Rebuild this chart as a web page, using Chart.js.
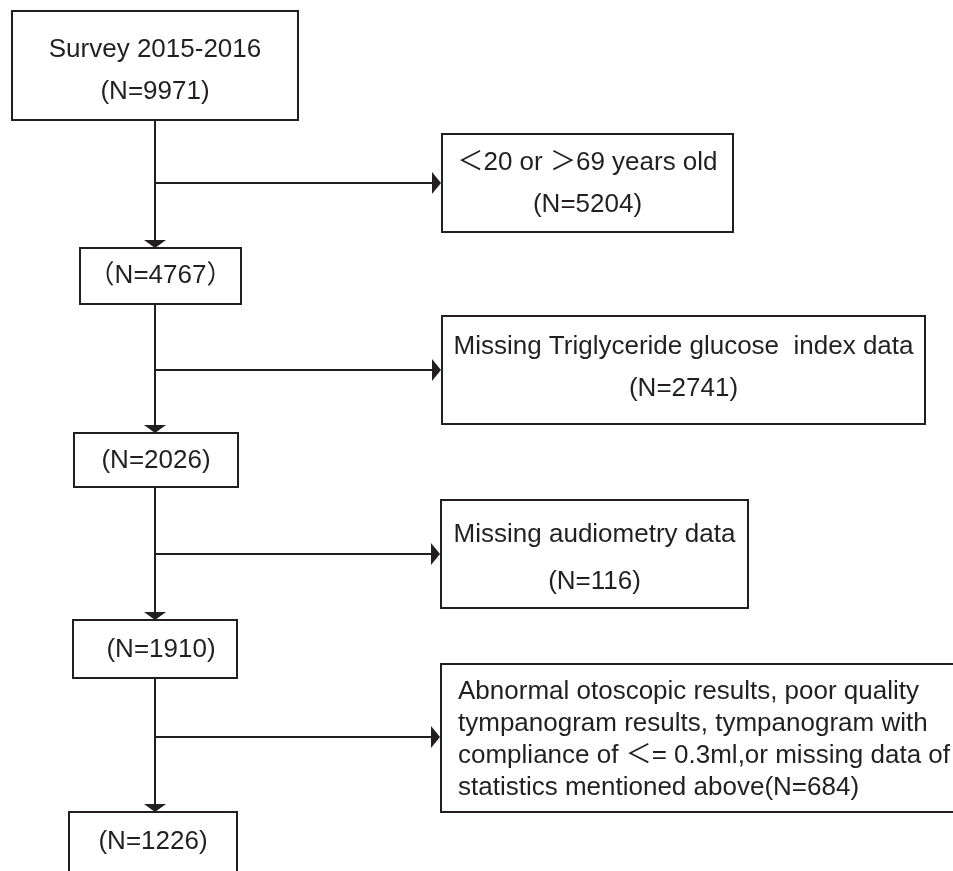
<!DOCTYPE html>
<html>
<head>
<meta charset="utf-8">
<script src="https://cdn.jsdelivr.net/npm/chart.js@4"></script>
<style>
html,body{margin:0;padding:0;background:#fff;overflow:hidden;}
canvas{display:block;}
</style>
</head>
<body>
<canvas id="c" width="953" height="871"></canvas>
<script>
// ---- data ----
const mainLabels = ['Survey 2015-2016', '', '', '', ''];
const mainCounts = [9971, 4767, 2026, 1910, 1226];
const exclusionLabels = [
  ['＜20 or ＞69 years old'],
  ['Missing Triglyceride glucose  index data'],
  ['Missing audiometry data'],
  ['Abnormal otoscopic results, poor quality', 'tympanogram results, tympanogram with', 'compliance of ＜= 0.3ml,or missing data of', 'statistics mentioned above']
];
const exclusionCounts = [5204, 2741, 116, 684];

// ---- layout (chart coordinates) ----
const spineX = 155;
const mainBoxes = [
  {x0: 12, x1: 298, y0: 11, y1: 120, lines: [50, 92]},
  {x0: 80, x1: 241, y0: 248, y1: 304, lines: [276], fw: true},
  {x0: 74, x1: 238, y0: 433, y1: 487, lines: [461]},
  {x0: 73, x1: 237, y0: 620, y1: 678, lines: [650], dx: 6},
  {x0: 69, x1: 237, y0: 812, y1: 900, lines: [842]}
];
const exclBoxes = [
  {x0: 442, x1: 733, y0: 134, y1: 232, branchY: 183, lines: [163, 205]},
  {x0: 442, x1: 925, y0: 316, y1: 424, branchY: 370, lines: [347, 389]},
  {x0: 441, x1: 748, y0: 500, y1: 608, branchY: 554, lines: [535, 582]},
  {x0: 441, x1: 965, y0: 664, y1: 812, branchY: 737, lines: [692, 724, 756, 788], left: 458, inline: true}
];

const ink = '#231f20';

// connector segments built from layout
const segs = [];
for (let i = 0; i < mainBoxes.length - 1; i++) {
  segs.push({x: spineX, y: mainBoxes[i].y1}, {x: spineX, y: mainBoxes[i + 1].y0 - 7}, {x: null, y: null});
  const e = exclBoxes[i];
  segs.push({x: spineX, y: e.branchY}, {x: e.x0 - 8, y: e.branchY}, {x: null, y: null});
}

const flowPlugin = {
  id: 'flow',
  afterDatasetsDraw(chart) {
    const ctx = chart.ctx, xs = chart.scales.x, ys = chart.scales.y;
    const X = v => xs.getPixelForValue(v), Y = v => ys.getPixelForValue(v);
    ctx.save();
    ctx.strokeStyle = ink; ctx.fillStyle = ink; ctx.lineWidth = 2;
    const font = '26px "Liberation Sans", Arial, "Noto Sans CJK SC", sans-serif';
    ctx.font = font; ctx.textBaseline = 'middle';
    const rect = b => { ctx.strokeRect(X(b.x0), Y(b.y0), X(b.x1) - X(b.x0), Y(b.y1) - Y(b.y0)); };
    // main boxes
    mainBoxes.forEach((b, i) => {
      rect(b);
      const cx = (X(b.x0) + X(b.x1)) / 2 + (b.dx || 0);
      const countTxt = b.fw ? '（N=' + mainCounts[i] + '）' : '(N=' + mainCounts[i] + ')';
      const txt = mainLabels[i] ? [mainLabels[i], countTxt] : [countTxt];
      ctx.textAlign = 'center';
      txt.forEach((t, k) => ctx.fillText(t, cx, Y(b.lines[k])));
      // down arrowhead into box (except first)
      if (i > 0) {
        const ty = Y(b.y0);
        ctx.beginPath();
        ctx.moveTo(X(spineX) - 11, ty - 8);
        ctx.lineTo(X(spineX) + 11, ty - 8);
        ctx.lineTo(X(spineX), ty);
        ctx.closePath(); ctx.fill();
      }
    });
    // exclusion boxes
    exclBoxes.forEach((b, i) => {
      rect(b);
      const lbl = exclusionLabels[i];
      if (b.inline) {
        ctx.textAlign = 'left';
        lbl.forEach((t, k) => {
          const s = k === lbl.length - 1 ? t + '(N=' + exclusionCounts[i] + ')' : t;
          ctx.fillText(s, X(b.left), Y(b.lines[k]));
        });
      } else {
        ctx.textAlign = 'center';
        const cx = (X(b.x0) + X(b.x1)) / 2;
        ctx.fillText(lbl[0], cx, Y(b.lines[0]));
        ctx.fillText('(N=' + exclusionCounts[i] + ')', cx, Y(b.lines[1]));
      }
      const tx = X(b.x0) - 1, ty = Y(b.branchY);
      ctx.beginPath();
      ctx.moveTo(tx - 9, ty - 11);
      ctx.lineTo(tx - 9, ty + 11);
      ctx.lineTo(tx, ty);
      ctx.closePath(); ctx.fill();
    });
    ctx.restore();
  }
};

new Chart(document.getElementById('c'), {
  type: 'line',
  data: {
    datasets: [{
      data: segs,
      borderColor: ink,
      borderWidth: 2,
      pointRadius: 0,
      spanGaps: false,
      tension: 0
    }]
  },
  options: {
    responsive: false,
    animation: false,
    layout: {padding: 0},
    plugins: {legend: {display: false}, tooltip: {enabled: false}},
    scales: {
      x: {type: 'linear', min: 0, max: 953, display: false},
      y: {type: 'linear', min: 0, max: 871, reverse: true, display: false}
    }
  },
  plugins: [flowPlugin]
});
</script>
</body>
</html>
